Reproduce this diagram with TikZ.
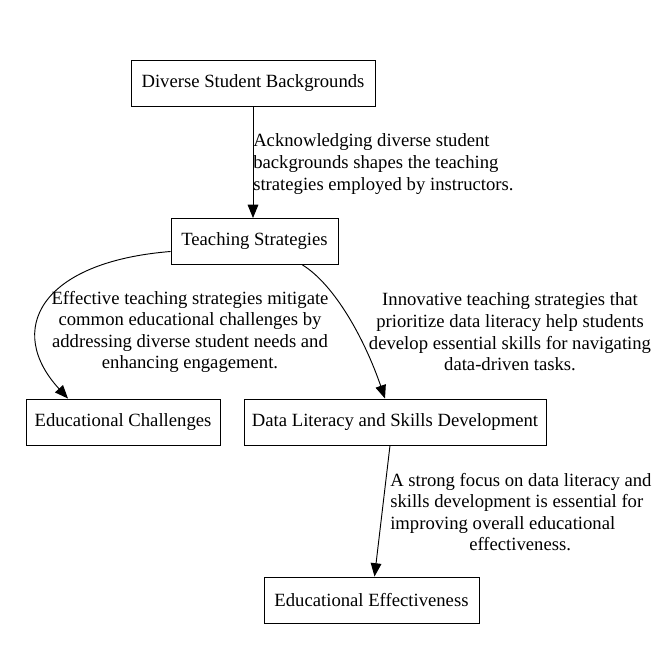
\documentclass[tikz,border=0pt]{standalone}
\usepackage{fontspec}
\setmainfont{Liberation Serif}
\usetikzlibrary{arrows.meta}
\begin{document}
\begin{tikzpicture}[x=0.75pt,y=-0.75pt,
  box/.style={draw,line width=0.7pt,minimum height=34.5pt,inner sep=0pt,font=\fontsize{14}{16.5}\selectfont},
  lbl/.style={inner sep=0pt,font=\fontsize{14}{16.2}\selectfont},
  edge/.style={line width=0.7pt,-{Triangle[length=10pt,width=8pt]}}]
\useasboundingbox (0,0) rectangle (660,652);
\node[box,minimum width=183pt] (dsb) at (253,83) {Diverse Student Backgrounds};
\node[box,minimum width=125.25pt] (ts) at (254.5,241.5) {Teaching Strategies};
\node[box,minimum width=145.5pt] (ec) at (123,422) {Educational Challenges};
\node[box,minimum width=226.5pt] (dl) at (395,422) {Data Literacy and Skills Development};
\node[box,minimum width=161.25pt] (ee) at (371.5,600) {Educational Effectiveness};

\draw[edge] (dsb.south) -- (dsb.south |- ts.north);
\draw[edge] ([yshift=-7.5pt]ts.west) .. controls (40,262) and (5,330) .. ([xshift=-41.25pt]ec.north);
\draw[edge] ([xshift=36pt]ts.south) .. controls (335,285) and (365,340) .. ([xshift=-7.5pt]dl.north);
\draw[edge] ([xshift=-3.75pt]dl.south) -- ([xshift=2.25pt]ee.north);

\node[lbl,anchor=west,align=left] (l1) at (253,164) {Acknowledging diverse student\\backgrounds shapes the teaching\\strategies employed by instructors.};
\node[lbl,align=center] (l2) at (190,332) {Effective teaching strategies mitigate\\common educational challenges by\\addressing diverse student needs and\\enhancing engagement.};
\node[lbl,align=center] (l3) at (510,332) {Innovative teaching strategies that\\prioritize data literacy help students\\develop essential skills for navigating\\data-driven tasks.};
\node[lbl,anchor=west,align=left] (l4) at (390,512) {A strong focus on data literacy and\\skills development is essential for\\improving overall educational\\\hspace*{59.25pt}effectiveness.};
\end{tikzpicture}
\end{document}
